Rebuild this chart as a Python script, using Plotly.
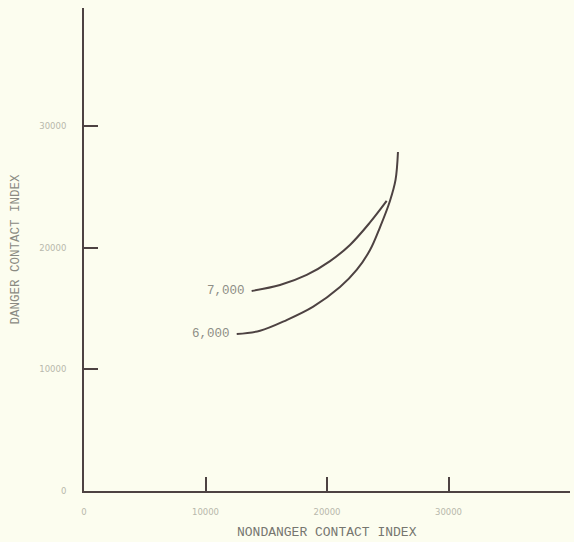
import plotly.graph_objects as go

# Data
x_7000 = [13800, 16130, 18330, 20250, 21890, 23540, 24910]
y_7000 = [16460, 16950, 17780, 18920, 20250, 22100, 23870]
x_6000 = [12570, 14490, 16680, 18870, 21070, 22440, 23540, 24360, 25180, 25640, 25840]
y_6000 = [12920, 13190, 14070, 15170, 16780, 18190, 19830, 21700, 23870, 25600, 27900]
series_labels = ["7,000", "6,000"]
tick_vals = [0, 10000, 20000, 30000]
tick_text = ["0", "10000", "20000", "30000"]

line_col = "#4d4242"
bg = "#fcfdef"

fig = go.Figure()
for xs, ys in [(x_7000, y_7000), (x_6000, y_6000)]:
    fig.add_trace(go.Scatter(x=xs, y=ys, mode="lines",
                             line=dict(color=line_col, width=2, shape="spline", smoothing=1.0),
                             hoverinfo="skip", showlegend=False))

for lab, xs, ys in [(series_labels[0], x_7000, y_7000), (series_labels[1], x_6000, y_6000)]:
    fig.add_annotation(x=xs[0], y=ys[0], text=lab, showarrow=False, xanchor="right", xshift=-5,
                       font=dict(family="Liberation Mono", size=12.5, color="#8e8e86"))

fig.add_annotation(x=0.5, y=-0.085, xref="paper", yref="paper", text="NONDANGER CONTACT INDEX",
                   showarrow=False, xanchor="center", yanchor="middle",
                   font=dict(family="Liberation Mono", size=13, color="#76766f"))
fig.add_annotation(x=-0.14, y=0.502, xref="paper", yref="paper", text="DANGER CONTACT INDEX",
                   showarrow=False, textangle=-90, xanchor="center", yanchor="middle",
                   font=dict(family="Liberation Mono", size=12.5, color="#8a8a82"))

axis_common = dict(showline=True, linecolor=line_col, linewidth=2, ticks="inside", ticklen=14,
                   tickwidth=2, tickcolor=line_col, showgrid=False, zeroline=False,
                   tickvals=tick_vals, ticktext=tick_text,
                   tickfont=dict(family="DejaVu Sans", size=8.5, color="#b8b8ac"))

fig.update_xaxes(range=[0, 40000], ticklabelstandoff=12, **axis_common)
fig.update_yaxes(range=[0, 39750], ticklabelstandoff=14, **axis_common)

fig.update_layout(width=574, height=542, margin=dict(l=84, r=4, t=8, b=51),
                  paper_bgcolor=bg, plot_bgcolor=bg)

fig.write_html("out.html")
